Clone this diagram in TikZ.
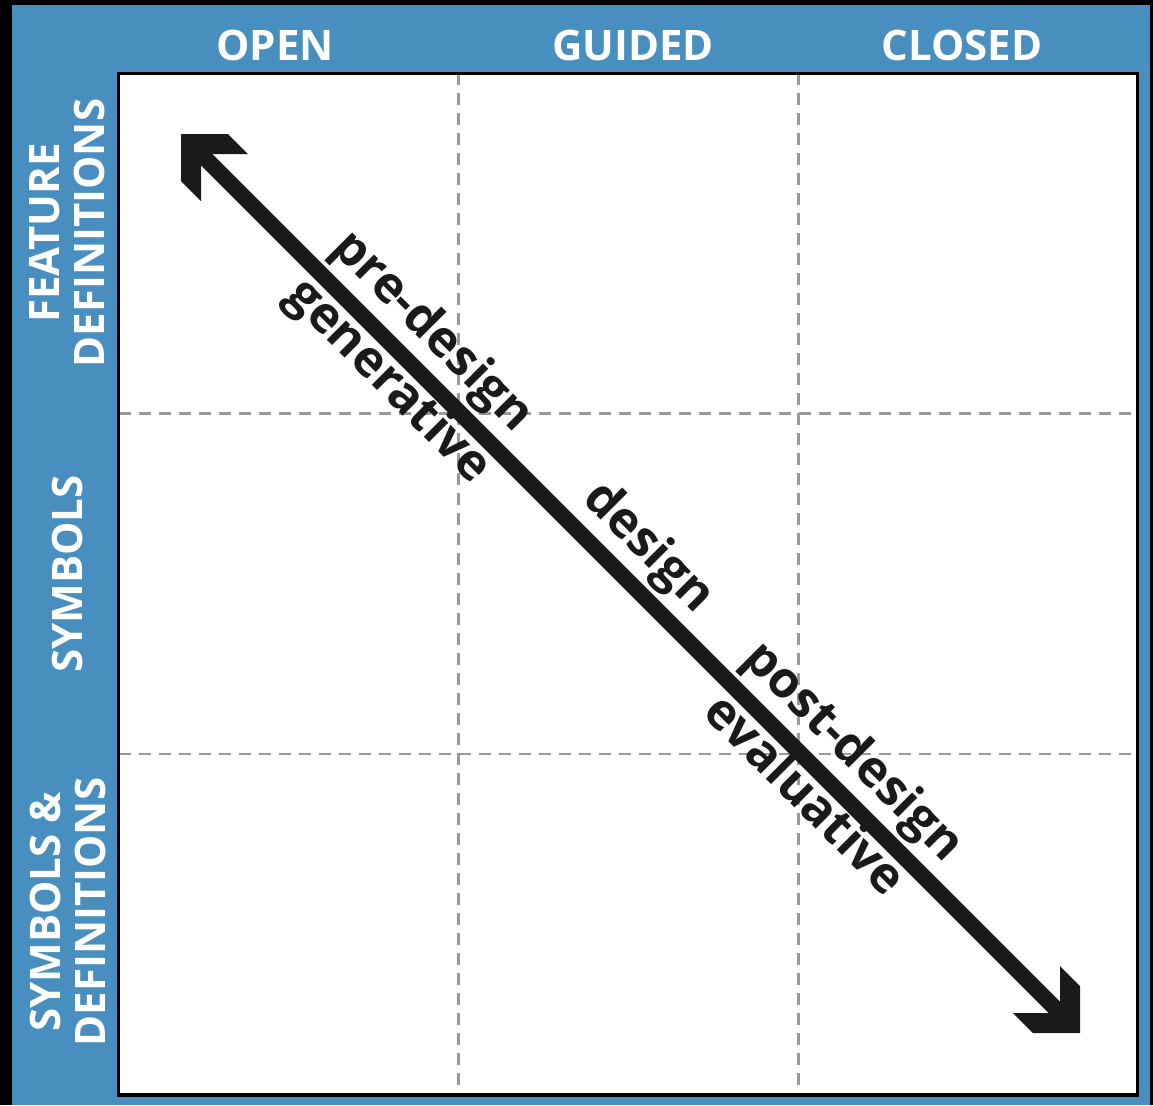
\documentclass[tikz,border=0pt]{standalone}
\usepackage{fontspec}
\setmainfont{Open Sans}
\usetikzlibrary{calc}
\definecolor{panelblue}{RGB}{72,142,190}
\definecolor{ink}{RGB}{26,26,26}
\begin{document}
\begin{tikzpicture}[x=.5pt, y=-.5pt,
    hdr/.style={text=white, inner sep=0, font=\fontsize{21}{22.5}\selectfont\bfseries},
    lbl/.style={text=ink, inner sep=0, rotate=-45, anchor=base, font=\fontsize{25}{27}\selectfont\bfseries},
    gridline/.style={draw=gray!80, line width=1.2pt, dash pattern=on 6pt off 4pt},
    shaft/.style={draw=ink, line width=8pt, shorten <=12pt, shorten >=12pt}]
    \fill[black] (0,0) rectangle (1153,1105);
    \fill[panelblue] (12,5) rectangle (1150,1105);
    \fill[white] (118.5,73.3) rectangle (1137.5,1095);
    \draw[gridline] (458.5,73.3) -- (458.5,1095) (798.5,73.3) -- (798.5,1095);
    \draw[gridline] (118.5,413.5) -- (1137.5,413.5) (118.5,754) -- (1137.5,754);
    \draw[black, line width=1.6pt] (118.5,73.3) rectangle (1137.5,1095);
    \node[hdr, anchor=base] (open) at (275,60) {OPEN};
    \node[hdr, anchor=base] (guided) at (633,60) {GUIDED};
    \node[hdr, anchor=base] (closed) at (962,60) {CLOSED};
    \node[hdr, rotate=90, align=center] (featdef) at (67.5,233) {FEATURE\\DEFINITIONS};
    \node[hdr, rotate=90] (symb) at (67,574) {SYMBOLS};
    \node[hdr, rotate=90, align=center] (symbdef) at (67.5,912) {SYMBOLS \&\\DEFINITIONS};
    \coordinate (tl) at (181,134);
    \coordinate (br) at (1080,1033);
    \draw[shaft] (tl) -- (br);
    \fill[ink] (tl) -- ++(47,0) -- ++(20,20) -- ++(-35.7,0) -- ++(-11.3,11.3) -- ++(0,35.7) -- ++(-20,-20) -- cycle;
    \fill[ink] (br) -- ++(-47,0) -- ++(-20,-20) -- ++(35.7,0) -- ++(11.3,-11.3) -- ++(0,-35.7) -- ++(20,20) -- cycle;
    \node[lbl] (pre) at ($(tl)!.25!(br)+(17,-17)$) {pre-design};
    \node[lbl] (gen) at ($(tl)!.253!(br)+(-30,30)$) {generative};
    \node[lbl] (des) at ($(tl)!.49!(br)+(17,-17)$) {design};
    \node[lbl] (post) at ($(tl)!.7175!(br)+(17,-17)$) {post-design};
    \node[lbl] (eval) at ($(tl)!.715!(br)+(-30,30)$) {evaluative};
\end{tikzpicture}
\end{document}
